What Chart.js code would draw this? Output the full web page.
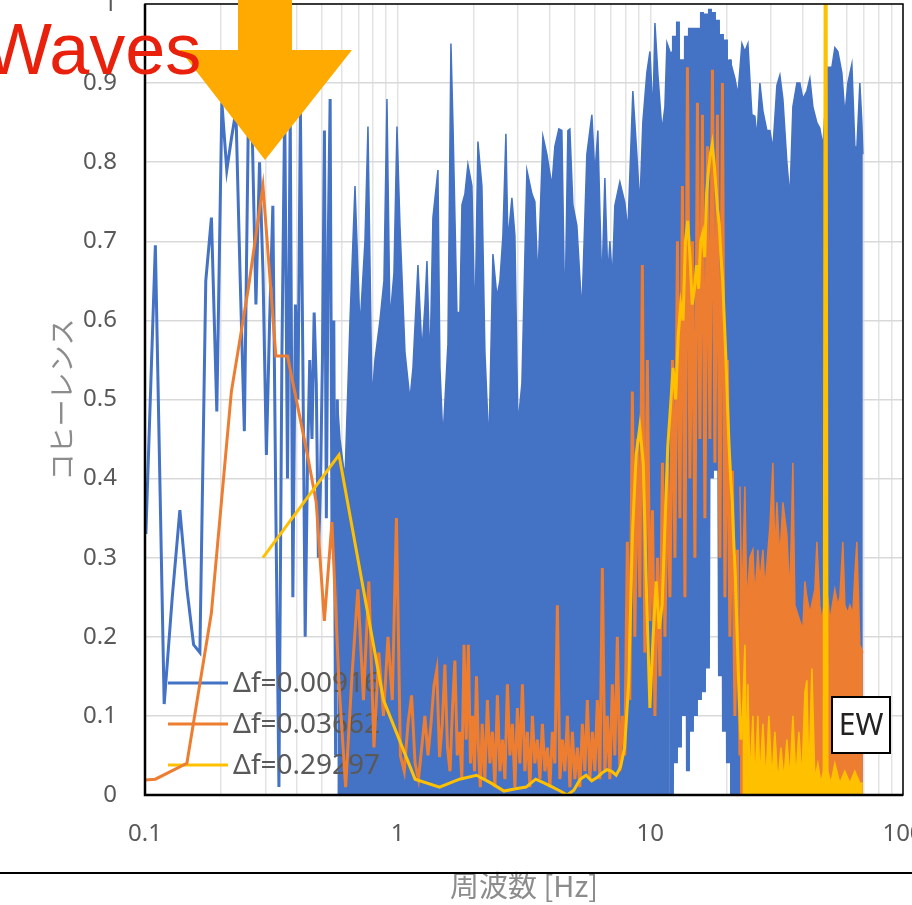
<!DOCTYPE html>
<html>
<head>
<meta charset="utf-8">
<style>
html,body{margin:0;padding:0;background:#fff;overflow:hidden}
canvas{display:block}
</style>
<script src="https://cdn.jsdelivr.net/npm/chart.js@4.4.1/dist/chart.umd.min.js"></script>
</head>
<body>
<canvas id="myChart" width="912" height="905"></canvas>
<script>
// ---- data ----
const legendLabels = ["Δf=0.00916", "Δf=0.03662", "Δf=0.29297"];
const seriesColors = ["#4472C4", "#ED7D31", "#FFC000"];
const yTitle = "コヒーレンス";
const xTitle = "周波数 [Hz]";
const xGridValues = [0.1,0.2,0.3,0.4,0.5,0.6,0.7,0.8,0.9,1,2,3,4,5,6,7,8,9,10,20,30,40,50,60,70,80,90,100];
const xLabelValues = [0.1, 1, 10, 100];
const xLabelText = ["0.1", "1", "10", "100"];

// df=0.00916, low frequencies (single points)
const blueLowF = [0.1008,0.1099,0.1191,0.1282,0.1374,0.1466,0.1557,0.1649,0.1740,0.1832,
0.1924,0.2015,0.2107,0.2198,0.2290,0.2382,0.2473,0.2565,0.2656,0.2748,
0.2840,0.2931,0.3023,0.3114,0.3206,0.3298,0.3389,0.3481,0.3572,0.3664,
0.3756,0.3847,0.3939,0.4030,0.4122,0.4214,0.4305,0.4397,0.4488,0.4580,
0.4672,0.4763,0.4855,0.4946,0.5038,0.5130,0.5221,0.5313,0.5404,0.5496,
0.5588,0.5679,0.5771];
const blueLowV = [0.33,0.695,0.115,0.25,0.36,0.26,0.19,0.18,0.65,0.73,
0.485,0.875,0.79,0.83,0.865,0.65,0.46,0.855,0.84,0.62,
0.80,0.66,0.43,0.60,0.745,0.35,0.01,0.55,0.87,0.40,
0.86,0.25,0.62,0.50,0.862,0.55,0.20,0.42,0.55,0.45,
0.61,0.52,0.30,0.39,0.55,0.84,0.35,0.70,0.88,0.33,
0.60,0.05,0.50];
// df=0.00916, dense part: upper edge (filled down to 0)
const blueTopF = [0.5771,0.5909,0.6187,0.6477,0.6778,0.7092,0.7423,0.7629,0.7913,0.8132,
0.8510,0.8825,0.9070,0.9322,0.9668,0.9937,1.0212,1.0688,1.1185,1.1496,
1.2031,1.2477,1.2825,1.3061,1.3418,1.3790,1.4434,1.4700,1.5107,1.5811,
1.6250,1.6548,1.7163,1.7637,1.7962,1.8459,1.8970,1.9673,2.0219,2.0779,
2.1549,2.2147,2.2969,2.3820,2.4705,2.5389,2.6092,2.6816,2.7308,2.8322,
2.9106,2.9912,3.1023,3.2469,3.3981,3.4922,3.5889,3.7562,3.8956,4.0772,
4.1900,4.3452,4.4659,4.5896,4.7167,4.8034,4.9365,5.1198,5.3582,5.6080,
5.8692,6.0316,6.1987,6.4288,6.6068,6.7898,6.9146,7.0743,7.2369,7.5742,
7.9272,8.1468,8.5262,8.8429,9.0876,9.3393,9.6860,9.9644,10.240,10.429,
10.718,11.116,11.423,11.633,
21.030,21.613,22.212,23.036,23.674,24.330,25.233,25.932,26.409,
27.141,27.893,28.928,29.729,30.552,31.688,32.564,33.466,34.710,35.670,
36.658,38.019,39.072,40.154,41.646,42.798,43.984,45.617,46.879,48.178,
50.423,52.295,53.744,55.233,57.283,58.868,60.499,62.747,64.484,65.671,
67.487,68.729,69.356];
const blueTopV = [0.50,0.45,0.40,0.60,0.77,0.59,0.70,0.845,0.50,0.55,
0.60,0.65,0.88,0.60,0.66,0.845,0.72,0.56,0.50,0.54,
0.67,0.56,0.62,0.675,0.54,0.73,0.79,0.54,0.45,0.57,
0.95,0.85,0.61,0.61,0.746,0.76,0.797,0.77,0.59,0.826,
0.77,0.56,0.44,0.684,0.63,0.65,0.707,0.836,0.70,0.755,
0.707,0.468,0.52,0.79,0.76,0.75,0.65,0.833,0.81,0.77,
0.82,0.842,0.84,0.60,0.84,0.842,0.746,0.72,0.61,0.81,
0.86,0.785,0.84,0.64,0.78,0.655,0.70,0.652,0.745,0.775,
0.749,0.713,0.89,0.81,0.745,0.85,0.913,0.94,0.86,0.976,
0.91,0.84,0.87,0.951,
0.92,0.906,0.885,0.95,0.94,0.95,0.86,0.858,0.83,
0.90,0.865,0.84,0.84,0.817,0.897,0.91,0.88,0.80,0.755,
0.87,0.90,0.90,0.88,0.89,0.906,0.87,0.85,0.843,0.82,
0.92,0.92,0.945,0.94,0.913,0.86,0.90,0.924,0.82,0.818,
0.90,0.85,0.81];
// df=0.00916, 12-21 Hz: blue does not reach the bottom here
const blueZigF = [11.956,12.176,12.400,12.628,12.860,13.097,13.338,13.583,13.833,14.087,
14.346,14.610,14.879,15.153,15.432,15.716,16.005,16.300,16.600,16.905,
17.216,17.533,17.855,18.184,18.518,18.859,19.206,19.559,19.919,20.286,20.650];
const blueZigV = [0.94,0.0,0.96,0.04,0.978,0.06,0.93,0.10,0.96,0.03,
0.97,0.08,0.97,0.10,0.97,0.12,0.99,0.13,0.988,0.16,
0.994,0.40,0.99,0.41,0.98,0.15,0.962,0.08,0.955,0.04,0.93];

// df=0.03662
const orangeLowF = [0.0732,0.1099,0.1465,0.1831,0.2197,0.2563,0.2930,0.3296,0.3662,0.4028,
0.4394,0.4761,0.5127,0.5493,0.5859,0.6225,0.6592,0.6958,0.7324,0.7690,
0.8056,0.8423,0.8789,0.9155,0.9521,0.9888,1.0254,1.0620,1.0986,1.1352,
1.1718,1.2085,1.2451,1.2817,1.3183,1.3549,1.3916,1.4282,1.4648,1.5014,
1.5380,1.5747,1.6113,1.6479,1.6845,1.7211,1.7578,1.7944,1.8310,1.8676,
1.9042,1.9409,1.9775,2.0141,2.0507,2.0873,2.1240,2.1606];
const orangeLowV = [0.015,0.02,0.04,0.23,0.51,0.64,0.77,0.555,0.555,0.49,
0.43,0.37,0.22,0.345,0.14,0.01,0.15,0.26,0.12,0.27,
0.06,0.18,0.10,0.20,0.12,0.35,0.05,0.03,0.09,0.126,
0.04,0.02,0.06,0.10,0.05,0.09,0.138,0.158,0.048,0.09,
0.165,0.06,0.03,0.11,0.17,0.05,0.08,0.02,0.19,0.07,
0.19,0.04,0.10,0.03,0.15,0.06,0.01,0.09];
const orangeMidF = [2.2147,2.2658,2.3178,2.3713,2.4258,2.4818,2.5389,2.5975,2.6572,2.7186,
2.7810,2.8452,2.9106,2.9778,3.0462,3.1166,3.1882,3.2618,3.3367,3.4138,
3.4922,3.5729,3.6550,3.7394,3.8252,3.9136,4.0035,4.0960,4.1900,4.2868,
4.3852,4.4865,4.5896,4.6956,4.8034,4.9144,5.0273,5.1434,5.2614,5.3829,
5.5067,5.6339,5.7632,5.8963,6.0316,6.1709,6.3127,6.4585,6.6068,6.7594,
6.9146,7.0743,7.2369,7.4040,7.5742,7.7492,7.9272,8.1103,8.2964,8.4880,
8.6831,8.8837,9.0876,9.2975,9.5110,9.7307,9.9644,10.195,10.429,10.670,
10.915,11.167,11.423,11.687,11.956,12.232,12.513,12.802,13.095,13.398,
13.706,14.023,14.344,14.675,15.013,15.360,15.712,16.075,16.444,16.824,
17.211,17.609,18.013,18.429,18.852,19.288,19.731,20.187,20.650,21.127,
21.613,22.112,22.620];
const orangeMidV = [0.02,0.12,0.04,0.08,0.01,0.126,0.03,0.07,0.02,0.14,
0.05,0.09,0.01,0.11,0.04,0.14,0.03,0.08,0.01,0.10,
0.04,0.07,0.02,0.09,0.03,0.06,0.01,0.08,0.04,0.24,
0.02,0.07,0.03,0.10,0.01,0.08,0.02,0.06,0.01,0.09,
0.03,0.12,0.02,0.08,0.03,0.12,0.02,0.287,0.03,0.10,
0.02,0.14,0.05,0.20,0.03,0.10,0.05,0.32,0.12,0.51,
0.20,0.45,0.25,0.67,0.18,0.55,0.22,0.36,0.10,0.30,
0.15,0.42,0.20,0.42,0.25,0.55,0.30,0.70,0.35,0.77,
0.25,0.92,0.40,0.70,0.30,0.875,0.45,0.86,0.35,0.82,
0.45,0.917,0.42,0.86,0.30,0.90,0.25,0.55,0.20,0.41,
0.10,0.31,0.05];
// df=0.03662, 23-70 Hz: upper edge (filled down to 0)
const orangeTopF = [22.620,23.036,23.674,24.110,24.777,25.460,25.932,26.650,27.141,27.893,
28.405,29.729,30.552,31.115,31.688,32.564,33.466,34.710,35.670,36.658,
37.332,39.072,40.154,40.893,41.646,42.798,44.793,45.617,46.879,47.740,
49.064,50.423,51.350,53.744,55.233,56.248,57.810,58.868,60.499,61.613,
63.320,64.484,65.671,67.487,69.356];
const orangeTopV = [0.39,0.24,0.39,0.24,0.30,0.31,0.25,0.31,0.27,0.31,
0.26,0.34,0.42,0.30,0.37,0.30,0.37,0.33,0.25,0.42,
0.24,0.22,0.21,0.27,0.25,0.23,0.26,0.32,0.24,0.22,
0.25,0.25,0.22,0.26,0.24,0.25,0.32,0.24,0.23,0.24,
0.23,0.28,0.32,0.19,0.18];

// df=0.29297
const yellowF = [0.2930,0.5859,0.8789,1.1719,1.4648,1.7578,2.0508,2.3438,2.6367,2.9297,
3.2227,3.5156,3.8086,4.1016,4.3945,4.6875,4.9805,5.2734,5.5664,5.8594,
6.1523,6.4453,6.7383,7.0313,7.3242,7.6172,7.9102,8.2031,8.4961,8.7891,
9.0820,9.3750,9.6680,9.9609,10.254,10.547,10.840,11.133,11.426,11.719,
12.012,12.305,12.598,12.891,13.184,13.477,13.770,14.063,14.355,14.648,
14.941,15.234,15.527,15.820,16.113,16.406,16.699,16.992,17.285,17.578,
17.871,18.164,18.457,18.750,19.043,19.336,19.629,19.922,20.215,20.508,
20.801,21.094,21.387,21.680,21.973,22.266,22.559,22.852,23.145];
const yellowV = [0.30,0.43,0.12,0.02,0.01,0.02,0.025,0.015,0.005,0.008,
0.01,0.02,0.015,0.01,0.005,0.0,0.006,0.02,0.025,0.018,
0.022,0.028,0.032,0.03,0.025,0.035,0.06,0.14,0.33,0.43,
0.465,0.42,0.25,0.11,0.20,0.27,0.21,0.24,0.34,0.44,
0.49,0.54,0.50,0.58,0.62,0.60,0.70,0.726,0.68,0.62,
0.64,0.67,0.64,0.70,0.71,0.68,0.76,0.79,0.81,0.823,
0.80,0.77,0.74,0.72,0.68,0.65,0.60,0.55,0.49,0.44,
0.40,0.37,0.32,0.28,0.22,0.16,0.11,0.07,0.10];
// df=0.29297, 23-70 Hz: upper edge (filled down to 0)
const yellowTopF = [23.145,23.674,24.110,24.330,24.777,25.460,25.932,26.650,27.141,27.893,
28.666,29.458,30.276,31.115,31.977,32.864,33.773,34.710,35.670,36.658,
37.675,38.716,39.791,40.893,41.646,42.408,43.590,44.793,46.034,47.310,
48.396,48.839,49.967,50.423,51.822,53.744,56.248,58.868,61.613,64.484,
67.487,69.356];
const yellowTopV = [0.10,0.19,0.02,0.14,0.02,0.10,0.015,0.10,0.02,0.09,
0.015,0.10,0.02,0.08,0.015,0.06,0.02,0.07,0.02,0.10,
0.02,0.08,0.02,0.13,0.145,0.02,0.16,0.02,0.04,0.015,
0.03,1.0,1.0,0.03,0.015,0.04,0.015,0.03,0.015,0.03,
0.015,0.015];

///////// helpers ////////
function pts(F, V){
  return F.map((f, i) => ({x: f, y: V[i]}));
}
function lineSet(data, color, width, order){
  return {data: data, borderColor: color, backgroundColor: color, borderWidth: width,
          pointRadius: 0, fill: false, order: order};
}
function bandSet(data, color, order){// filled down to the x axis
  return {data: data, borderColor: color, backgroundColor: color, borderWidth: 1.5,
          pointRadius: 0, fill: "origin", order: order};
}

const blue = seriesColors[0], orange = seriesColors[1], yellow = seriesColors[2];
const blueTop = pts(blueTopF, blueTopV);
const blueZig = pts(blueZigF, blueZigV);
const blueBandA = blueTop.filter(p => p.x < blueZigF[0]).concat([blueZig[0]]);
const blueBandB = [blueZig[blueZig.length - 1]].concat(blueTop.filter(p => p.x > blueZigF[blueZigF.length - 1]));

const datasets = [
  bandSet(blueBandA, blue, 12),
  bandSet(blueBandB, blue, 11),
  lineSet(blueZig, blue, 4, 10),
  lineSet(pts(blueLowF, blueLowV), blue, 3, 9),
  bandSet(pts(orangeTopF, orangeTopV), orange, 6),
  lineSet(pts(orangeLowF, orangeLowV).concat(pts(orangeMidF, orangeMidV)), orange, 3, 5),
  bandSet(pts(yellowTopF, yellowTopV), yellow, 3),
  lineSet(pts(yellowF, yellowV), yellow, 3, 2)
];
const LEGEND_AFTER = 3; // legend goes above the blue lines, under orange and yellow

///////// extra drawing: legend, frame, EW box, annotation ////////
const decor = {
  id: "decor",
  afterDatasetDraw(chart, args){
    if (args.index !== LEGEND_AFTER) return;
    const ctx = chart.ctx, a = chart.chartArea;
    ctx.save();
    ctx.font = "28px 'Noto Sans'";
    ctx.textBaseline = "middle";
    for (let ii = 0; ii < legendLabels.length; ii++){
      const y = a.bottom - 112 + ii * 41;
      ctx.strokeStyle = seriesColors[ii];
      ctx.lineWidth = 3;
      ctx.beginPath();
      ctx.moveTo(a.left + 23, y);
      ctx.lineTo(a.left + 83, y);
      ctx.stroke();
      ctx.fillStyle = "#595959";
      ctx.fillText(legendLabels[ii], a.left + 88, y + 1);
    }
    ctx.restore();
  },
  afterDatasetsDraw(chart){
    const ctx = chart.ctx, a = chart.chartArea;
    ctx.save();
    ctx.strokeStyle = "#000";
    ctx.lineWidth = 1.5;
    ctx.strokeRect(a.left, a.top, a.right - a.left, a.bottom - a.top);
    ctx.lineWidth = 2.5;
    ctx.beginPath();
    ctx.moveTo(a.left, a.top);
    ctx.lineTo(a.left, a.bottom);
    ctx.lineTo(a.right, a.bottom);
    ctx.stroke();
    // EW box
    const bx = a.right - 71, by = a.bottom - 98;
    ctx.fillStyle = "#fff";
    ctx.fillRect(bx, by, 58, 56);
    ctx.lineWidth = 2;
    ctx.strokeRect(bx, by, 58, 56);
    ctx.fillStyle = "#222";
    ctx.font = "30px 'Noto Sans'";
    ctx.textAlign = "center";
    ctx.textBaseline = "middle";
    ctx.fillText("EW", bx + 29, by + 29);
    ctx.restore();
  },
  afterDraw(chart){
    const ctx = chart.ctx;
    ctx.save();
    // separator line across the bottom
    ctx.strokeStyle = "#000";
    ctx.lineWidth = 2;
    ctx.beginPath();
    ctx.moveTo(0, 873);
    ctx.lineTo(chart.width, 873);
    ctx.stroke();
    // arrow
    ctx.fillStyle = "#FFAA00";
    ctx.beginPath();
    ctx.moveTo(238, 0);
    ctx.lineTo(292, 0);
    ctx.lineTo(292, 50);
    ctx.lineTo(352, 50);
    ctx.lineTo(265, 160);
    ctx.lineTo(180, 50);
    ctx.lineTo(238, 50);
    ctx.closePath();
    ctx.fill();
    // label
    ctx.fillStyle = "#E8200C";
    ctx.font = "72px 'Liberation Sans'";
    ctx.textBaseline = "alphabetic";
    ctx.fillText("Waves", -16, 74);
    ctx.restore();
  }
};

function init_graph(){
  const ctx = document.getElementById("myChart");
  return new Chart(ctx, {
    type: "line",
    data: {datasets: datasets},
    options: {
      responsive: false,
      animation: false,
      events: [],
      devicePixelRatio: 1,
      layout: {padding: {top: 4, right: 9, left: 0, bottom: 0}},
      elements: {line: {tension: 0}},
      plugins: {legend: {display: false}, tooltip: {enabled: false}},
      scales: {
        x: {
          type: "logarithmic", min: 0.1, max: 100,
          afterBuildTicks: s => { s.ticks = xGridValues.map(v => ({value: v})); },
          afterFit: s => { s.height = 110; s.paddingLeft = 0; s.paddingRight = 0; },
          grid: {color: "#e3e3e3", lineWidth: 1.5, drawTicks: false},
          border: {display: false},
          ticks: {autoSkip: false, maxRotation: 0, padding: 25, color: "#595959",
                  font: {family: "'Noto Sans'", size: 24},
                  callback: v => { const i = xLabelValues.indexOf(v); return i >= 0 ? xLabelText[i] : ""; }},
          title: {display: true, text: xTitle, color: "#8c8c8c",
                  font: {family: "'Noto Sans CJK JP'", size: 29}, padding: {top: 0, bottom: 2}}
        },
        y: {
          min: 0, max: 1,
          afterFit: s => { s.width = 145; s.paddingTop = 0; s.paddingBottom = 0; },
          grid: {color: "#d9d9d9", lineWidth: 1.5, drawTicks: false},
          border: {display: false},
          ticks: {stepSize: 0.1, padding: 28, color: "#595959",
                  font: {family: "'Noto Sans'", size: 24},
                  callback: v => { const r = Math.round(v * 10) / 10; return r === 0 ? "0" : r === 1 ? "1" : r.toFixed(1); }},
          title: {display: true, text: yTitle, color: "#8c8c8c",
                  font: {family: "'Noto Sans CJK JP'", size: 27}, padding: {top: 46, bottom: 0}}
        }
      }
    },
    plugins: [decor]
  });
}

init_graph();
</script>
</body>
</html>
